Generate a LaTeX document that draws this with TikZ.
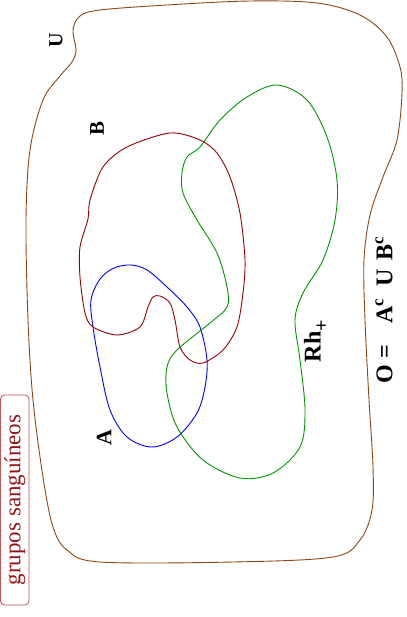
\documentclass[tikz,border=0pt]{standalone}
\usepackage{fontspec}
\setmainfont{Liberation Serif}
\definecolor{ubrown}{RGB}{140,70,20}
\definecolor{bred}{RGB}{150,0,0}
\definecolor{agreen}{RGB}{0,150,0}
\definecolor{boxred}{RGB}{190,80,80}
\definecolor{txtred}{RGB}{150,20,20}
\begin{document}
\begin{tikzpicture}[x=1pt,y=-1pt,
  curve/.style={line width=0.9pt},
  lbl/.style={rotate=90,font=\bfseries,inner sep=0pt}]
\useasboundingbox (0,0) rectangle (406,617);
% universe
\draw[curve,ubrown] plot[smooth cycle,tension=0.55] coordinates {
(80,16) (100,10) (167,5) (250,1) (317,3) (360,15) (387,37) (400,67) (402,93)
(397,140) (383,177) (370,215) (364,260) (365,320) (369,400) (373,467) (372,510)
(360,540) (333,557) (233,562) (100,562) (67,550) (53,527) (43,477) (33,400)
(28,320) (26,220) (30,150) (43,100) (60,76) (72,62) (76,50) (73,30)};
% A
\draw[curve,blue] plot[smooth cycle,tension=0.55] coordinates {
(131,265) (147,270) (167,287) (187,307) (200,327) (207,360) (205,387) (197,413)
(177,437) (152,447) (127,437) (110,410) (100,367) (93,327) (91,300) (100,279) (114,268)};
% B
\draw[curve,bred] plot[smooth cycle,tension=0.5] coordinates {
(170,133) (200,140) (217,153) (230,177) (240,213) (245,260) (243,293) (237,327)
(223,350) (203,363) (190,360) (180,347) (175,320) (170,303) (160,296) (153,297)
(148,307) (140,327) (117,335) (93,327) (85,313) (80,277) (80,247) (88,219)
(90,200) (103,167) (127,147)};
% Rh+
\draw[curve,agreen] plot[smooth cycle,tension=0.55] coordinates {
(277,85) (307,100) (327,137) (337,180) (335,220) (323,260) (303,293) (295,320)
(300,360) (305,410) (300,447) (273,473) (240,478) (203,460) (177,427) (167,393)
(167,367) (177,350) (210,323) (227,307) (227,287) (217,253) (197,220) (183,193)
(182,173) (187,157) (200,147) (220,120) (247,97)};
% labels
\node[lbl,font=\bfseries\fontsize{20}{20}\selectfont] (U) at (56,40) {U};
\node[lbl,font=\bfseries\fontsize{21}{21}\selectfont] (B) at (97,128) {B};
\node[lbl,font=\bfseries\fontsize{22}{22}\selectfont] (A) at (104,438) {A};
\node[lbl,font=\bfseries\fontsize{24}{24}\selectfont] (Rh) at (316,341) {Rh\raisebox{-0.3em}{\fontsize{20}{20}\selectfont +}};
\node[lbl,font=\bfseries\fontsize{24}{24}\selectfont] (O) at (384,310)
  {O =\hspace{0.9em}A\textsuperscript{c}\hspace{0.5em}U\hspace{0.35em}B\textsuperscript{c}};
\node[rotate=90,draw=boxred,line width=0.8pt,rounded corners=4pt,
  minimum width=210pt,minimum height=28.5pt,inner sep=0pt,text=txtred,
  font=\fontsize{23}{23}\selectfont] (title) at (14.75,500) {grupos sanguíneos};
\end{tikzpicture}
\end{document}
